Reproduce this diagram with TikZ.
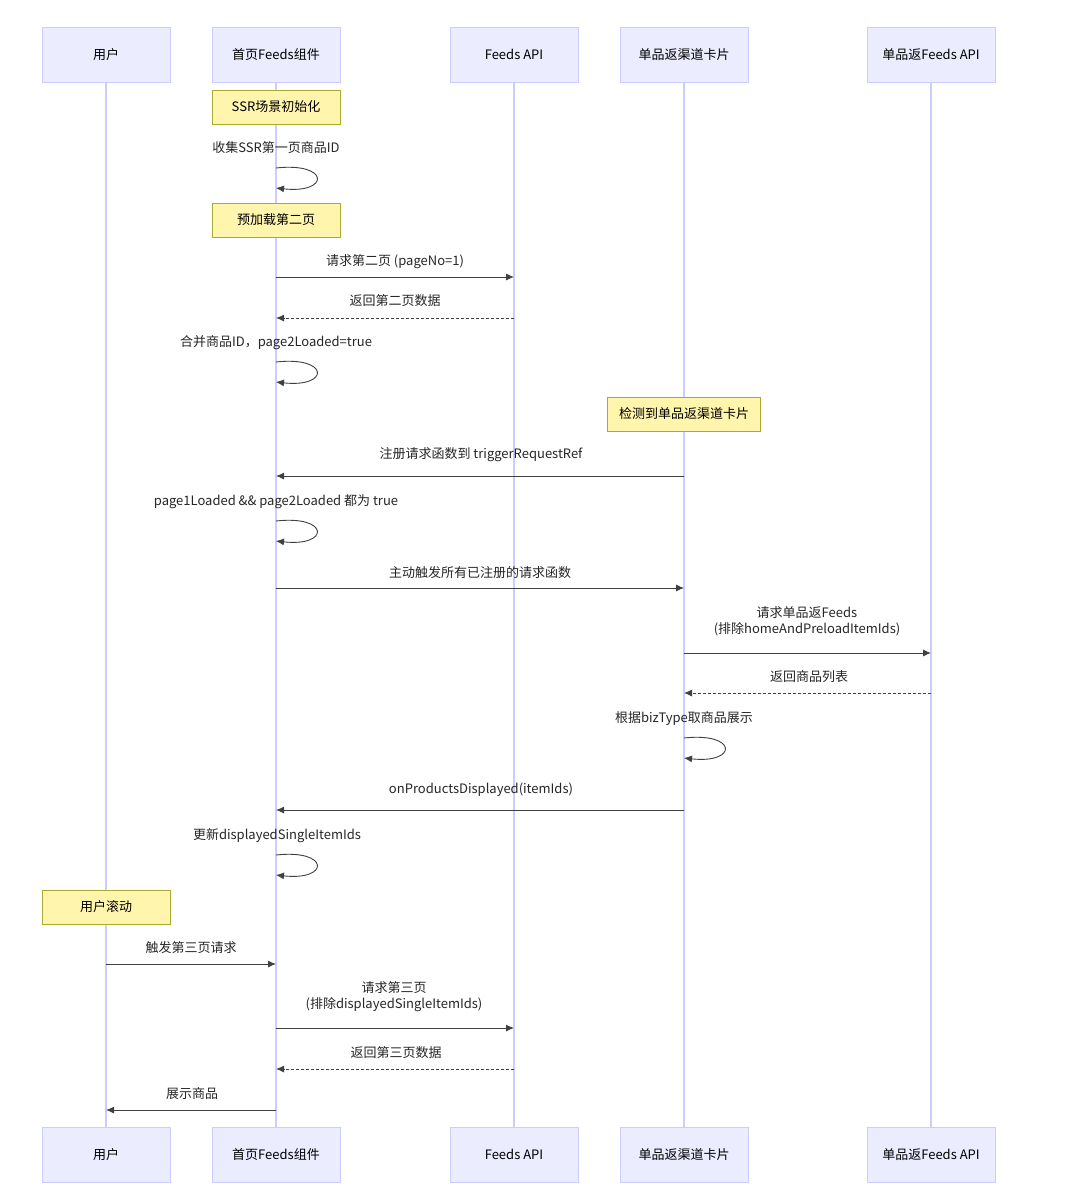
\documentclass[tikz,border=0pt]{standalone}
\usepackage{fontspec}
\setmainfont{Noto Sans CJK SC}
\usetikzlibrary{arrows.meta,calc}
\definecolor{actfill}{HTML}{ECECFF}
\definecolor{actline}{HTML}{CCCCFF}
\definecolor{notefill}{HTML}{FFF5AD}
\definecolor{noteline}{HTML}{AAAA33}
\tikzset{
  actor/.style={draw=actline,fill=actfill,minimum width=128pt,minimum height=55pt,font=\fontsize{13}{15}\selectfont,inner sep=0pt},
  note/.style={draw=noteline,fill=notefill,minimum height=34pt,font=\fontsize{13}{15}\selectfont},
  lbl/.style={font=\fontsize{13}{16}\selectfont,align=center,text=black!85},
  msg/.style={draw=black!75,line width=0.9pt,-{Latex[length=8pt,width=7pt]}},
  ret/.style={msg,dash pattern=on 3pt off 2pt},
  life/.style={draw=actline,line width=1.2pt}
}
\begin{document}
\begin{tikzpicture}[x=1pt,y=-1pt]
\useasboundingbox[fill=white] (0,0) rectangle (1080,1201);
% lifelines
\foreach \n/\x/\t in {u/106/用户,h/276/首页Feeds组件,f/514/Feeds API,c/684/单品返渠道卡片,a/931/单品返Feeds API}{
  \coordinate (\n) at (\x,0);
  \draw[life] (\x,82) -- (\x,1127);
  \node[actor] (\n top) at (\x,54.5) {\t};
  \node[actor] (\n bot) at (\x,1154.5) {\t};
}
% notes
\node[note,minimum width=128pt] (n1) at (276,107) {SSR场景初始化};
\node[note,minimum width=128pt] (n2) at (276,220) {预加载第二页};
\node[note,minimum width=153pt] (n3) at (684,414) {检测到单品返渠道卡片};
\node[note,minimum width=128pt] (n4) at (106,907) {用户滚动};
% messages
\node[lbl] (m1) at (276,148) {收集SSR第一页商品ID};
\draw[msg] (h|-0,168) .. controls (330,162) and (330,194) .. (h|-0,188);
\node[lbl] (m2) at (395,262) {请求第二页 (pageNo=1)};
\draw[msg] (h|-0,277) -- (f|-0,277);
\node[lbl] (m3) at (395,301) {返回第二页数据};
\draw[ret] (f|-0,318) -- (h|-0,318);
\node[lbl] (m4) at (276,343) {合并商品ID，page2Loaded=true};
\draw[msg] (h|-0,362) .. controls (330,356) and (330,388) .. (h|-0,382);
\node[lbl] (m5) at (481,455) {注册请求函数到 triggerRequestRef};
\draw[msg] (c|-0,476) -- (h|-0,476);
\node[lbl] (m6) at (276,502) {page1Loaded \&\& page2Loaded 都为 true};
\draw[msg] (h|-0,521) .. controls (330,515) and (330,547) .. (h|-0,541);
\node[lbl] (m7) at (480,573) {主动触发所有已注册的请求函数};
\draw[msg] (h|-0,588) -- (c|-0,588);
\node[lbl] (m8) at (807,621) {请求单品返Feeds\\(排除homeAndPreloadItemIds)};
\draw[msg] (c|-0,653) -- (a|-0,653);
\node[lbl] (m9) at (809,677) {返回商品列表};
\draw[ret] (a|-0,693) -- (c|-0,693);
\node[lbl] (m10) at (684,719) {根据bizType取商品展示};
\draw[msg] (c|-0,738) .. controls (738,732) and (738,764) .. (c|-0,758);
\node[lbl] (m11) at (481,790) {onProductsDisplayed(itemIds)};
\draw[msg] (c|-0,810) -- (h|-0,810);
\node[lbl] (m12) at (277,836) {更新displayedSingleItemIds};
\draw[msg] (h|-0,855) .. controls (330,849) and (330,881) .. (h|-0,875);
\node[lbl] (m13) at (191,948) {触发第三页请求};
\draw[msg] (u|-0,964) -- (h|-0,964);
\node[lbl] (m14) at (394,997) {请求第三页\\(排除displayedSingleItemIds)};
\draw[msg] (h|-0,1028) -- (f|-0,1028);
\node[lbl] (m15) at (396,1053) {返回第三页数据};
\draw[ret] (f|-0,1069) -- (h|-0,1069);
\node[lbl] (m16) at (192,1094) {展示商品};
\draw[msg] (h|-0,1110) -- (u|-0,1110);
\end{tikzpicture}
\end{document}
